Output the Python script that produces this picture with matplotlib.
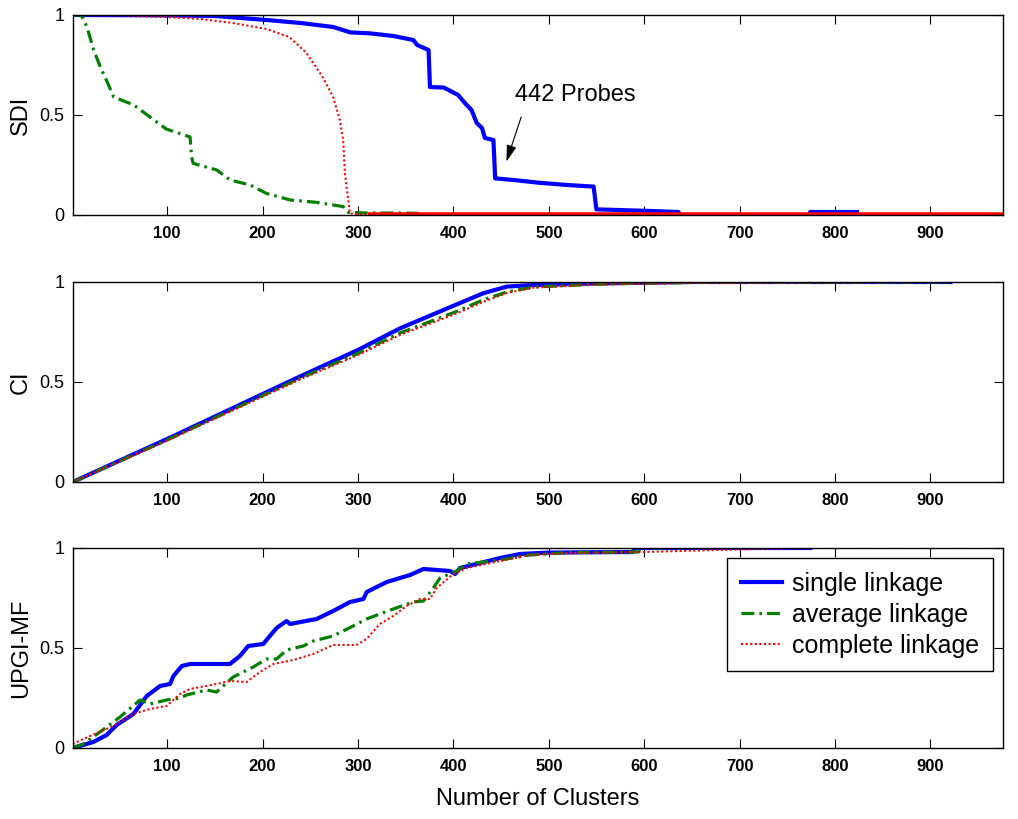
import matplotlib
matplotlib.use("Agg")
import matplotlib.pyplot as plt

plt.rcParams['font.family'] = ['Liberation Sans', 'DejaVu Sans']

# ---- data ----
series_names = ['single linkage', 'average linkage', 'complete linkage']

# SDI panel
sdi_single_x = [1, 100, 150, 204, 240, 274, 292, 313, 337, 358, 362, 374, 375.5, 390, 405, 412, 419,
                424.5, 430, 433, 442, 443.8, 463, 488, 519, 547, 549.9, 572, 607, 636, 637, 773, 774,
                823]
sdi_single_y = [1, 0.998, 0.995, 0.975, 0.96, 0.94, 0.913, 0.908, 0.895, 0.875, 0.85, 0.825, 0.64,
                0.637, 0.60, 0.56, 0.525, 0.46, 0.435, 0.385, 0.375, 0.183, 0.175, 0.162, 0.15, 0.142,
                0.028, 0.025, 0.02, 0.015, 0, 0, 0.015, 0.015]
sdi_average_x = [1, 10, 16, 23, 30, 37, 44, 65, 82, 99, 113, 124, 125.6, 127.3, 152, 166, 187, 204,
                 229, 257, 284.5, 289.8, 309, 340, 364, 366, 921]
sdi_average_y = [1, 1, 0.94, 0.825, 0.74, 0.667, 0.59, 0.55, 0.49, 0.43, 0.408, 0.39, 0.29, 0.258,
                 0.225, 0.175, 0.15, 0.108, 0.075, 0.063, 0.042, 0.013, 0.01, 0.01, 0.008, 0, 0]
sdi_complete_x = [1, 50, 99, 135, 169, 204, 228, 246, 263, 274, 281, 284.5, 286.3, 289.8, 291.7, 310]
sdi_complete_y = [1, 0.998, 0.99, 0.98, 0.96, 0.93, 0.89, 0.81, 0.69, 0.59, 0.475, 0.375, 0.21,
                  0.075, 0.008, 0]
sdi_complete_tail_x = [310, 976]
sdi_complete_tail_y = [0, 0]

# CI panel
ci_x = [1, 100, 239, 300, 344, 402, 431, 456, 484, 554, 650, 921]
ci_single_y = [0, 0.215, 0.527, 0.66, 0.768, 0.885, 0.943, 0.977, 0.985, 0.993, 1.0, 1.0]
ci_average_y = [0, 0.21, 0.518, 0.643, 0.745, 0.85, 0.91, 0.95, 0.975, 0.99, 0.998, 1.0]
ci_complete_x = [1, 100, 239, 300, 344, 402, 431, 456, 484, 554, 650, 921, 976]
ci_complete_y = [0, 0.207, 0.512, 0.635, 0.735, 0.84, 0.90, 0.945, 0.972, 0.988, 0.995, 1.0, 1.0]

# UPGI-MF panel
up_single_x = [1, 22.6, 36.6, 47, 64.6, 78.6, 92.6, 103, 106.6, 115.4, 124, 165.8, 176.3, 185, 200.7,
               214.7, 225.2, 228.7, 256.6, 274, 291.7, 305.7, 309.2, 330.2, 354.6, 368.6, 396.6,
               401.8, 407, 449, 470, 500, 588, 590, 774]
up_single_y = [0, 0.03, 0.065, 0.115, 0.17, 0.26, 0.31, 0.32, 0.36, 0.41, 0.42, 0.42, 0.46, 0.51, 0.52,
               0.60, 0.635, 0.62, 0.645, 0.685, 0.73, 0.745, 0.78, 0.83, 0.865, 0.895, 0.885, 0.87,
               0.90, 0.95, 0.97, 0.977, 0.98, 1.0, 1.0]
up_average_x = [1, 12.1, 29.6, 50.6, 71.6, 82, 99.4, 113.4, 120.4, 141.3, 151.8, 169.3, 190.3, 204.3,
                214.7, 225.2, 242.7, 253.2, 274, 295, 309, 323, 337, 358, 368.6, 379, 386, 403.5,
                414, 449, 480, 520, 594, 596, 642]
up_average_y = [0, 0.02, 0.08, 0.155, 0.24, 0.22, 0.24, 0.25, 0.265, 0.29, 0.28, 0.355, 0.405, 0.445,
                0.445, 0.49, 0.51, 0.535, 0.56, 0.61, 0.645, 0.67, 0.695, 0.73, 0.735, 0.80, 0.85,
                0.885, 0.92, 0.94, 0.965, 0.977, 0.98, 1.0, 1.0]
up_complete_x = [1, 19.2, 43.6, 64.6, 82, 99.4, 113.4, 124, 151.8, 165.8, 183.3, 197.3, 211.3, 232.3,
                 253.2, 274, 298.5, 309, 323, 337, 351, 365, 375.5, 382.5, 400, 414, 449, 480, 520,
                 600, 700, 774, 976]
up_complete_y = [0.02, 0.06, 0.11, 0.17, 0.195, 0.21, 0.27, 0.295, 0.32, 0.335, 0.33, 0.38, 0.42,
                 0.44, 0.47, 0.515, 0.515, 0.545, 0.62, 0.66, 0.71, 0.745, 0.745, 0.80, 0.87, 0.90,
                 0.935, 0.965, 0.975, 0.98, 0.993, 1.0, 1.0]

x_ticks = [100, 200, 300, 400, 500, 600, 700, 800, 900]
y_ticks = [0, 0.5, 1]
y_tick_labels = ['0', '0.5', '1']

# ---- styles ----
c_single = '#0000ff'
c_average = '#007f00'
c_complete = '#ff0000'
st_single = dict(color=c_single, lw=3.0, ls='-')
st_average = dict(color=c_average, lw=2.3, ls=(0, (4, 1.6, 0.8, 1.6)))
st_complete = dict(color=c_complete, lw=1.5, ls=(0, (1, 1.2)))

fig = plt.figure(figsize=(10.18, 8.19), dpi=100)
left, width = 0.0714, 0.9138
bottoms = [0.7375, 0.4115, 0.0867]
height = 0.2442
axes = [fig.add_axes([left, b, width, height]) for b in bottoms]
ax1, ax2, ax3 = axes

ax1.plot(sdi_single_x, sdi_single_y, **st_single)
ax1.plot(sdi_average_x, sdi_average_y, **st_average)
ax1.plot(sdi_complete_x, sdi_complete_y, **st_complete)
ax1.plot(sdi_complete_tail_x, sdi_complete_tail_y, color=c_complete, lw=4, solid_capstyle='butt')
ax1.text(465, 0.6, '442 Probes', fontsize=17, va='center', ha='left')
ax1.annotate('', xy=(455.6, 0.267), xytext=(471.1, 0.49),
             arrowprops=dict(arrowstyle='-|>,head_length=1.0,head_width=0.3', color='black',
                             lw=0.8, shrinkA=0, shrinkB=0))

ax2.plot(ci_x, ci_single_y, **st_single)
ax2.plot(ci_x, ci_average_y, **st_average)
ax2.plot(ci_complete_x, ci_complete_y, **st_complete)

l1, = ax3.plot(up_single_x, up_single_y, **st_single)
l2, = ax3.plot(up_average_x, up_average_y, **st_average)
l3, = ax3.plot(up_complete_x, up_complete_y, **st_complete)

leg = ax3.legend([l1, l2, l3], series_names, loc='upper right', bbox_to_anchor=(0.989, 0.95),
                 borderaxespad=0, fontsize=18, fancybox=False, framealpha=1, edgecolor='black',
                 handlelength=1.65, handletextpad=0.38, labelspacing=0.28, borderpad=0.55)
leg.get_frame().set_linewidth(1.0)

labels = ['SDI', 'CI', 'UPGI-MF']
for ax, lab in zip(axes, labels):
    ax.set_xlim(1, 976)
    ax.set_ylim(0, 1)
    ax.set_xticks(x_ticks)
    ax.set_xticklabels([str(t) for t in x_ticks], fontsize=12, fontweight='bold')
    ax.set_yticks(y_ticks)
    ax.set_yticklabels(y_tick_labels, fontsize=13)
    ax.tick_params(direction='in', length=6.5, width=0.8, top=True, right=True)
    ax.tick_params(axis='x', pad=8)
    ax.tick_params(axis='y', pad=6)
    ax.set_ylabel(lab, fontsize=17)
    ax.yaxis.set_label_coords(-0.044, 0.5)
    for s in ax.spines.values():
        s.set_linewidth(1.0)

ax3.set_xlabel('Number of Clusters', fontsize=17, labelpad=10)

fig.savefig('out.png', dpi=100)
